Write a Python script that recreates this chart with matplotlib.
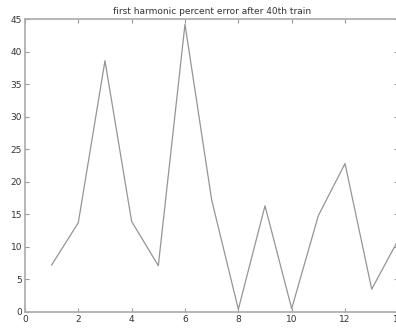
import matplotlib.pyplot as plt
import numpy as np

# percent error per train step
steps = list(range(1, 15))
err = [7.2, 13.7, 38.6, 13.9, 7.1, 44.2, 17.2, 0.4, 16.3, 0.5, 14.8, 22.8, 3.5, 11.1]

fig = plt.figure(figsize=(3.96, 3.29), dpi=100)
ax = fig.add_axes([0.063, 0.052, 0.943, 0.89])

ax.plot(steps, err, lw=0.9, color='#959595')

ax.set_xlim(0, 14)
ax.set_ylim(0, 45)
ax.set_xticks(np.arange(0, 15, 2))
ax.set_yticks(np.arange(0, 46, 5))
ax.tick_params(direction='in', length=3, width=0.8, colors='#999999',
               labelcolor='#333333', labelsize=6.5, top=True, right=True, pad=2)
for s in ax.spines.values():
    s.set_color('#aaaaaa')
    s.set_linewidth(1.2)

ax.set_title('first harmonic percent error after 40th train', fontsize=6.5,
             color='#333333', pad=4)

plt.savefig('out.png', dpi=100)
